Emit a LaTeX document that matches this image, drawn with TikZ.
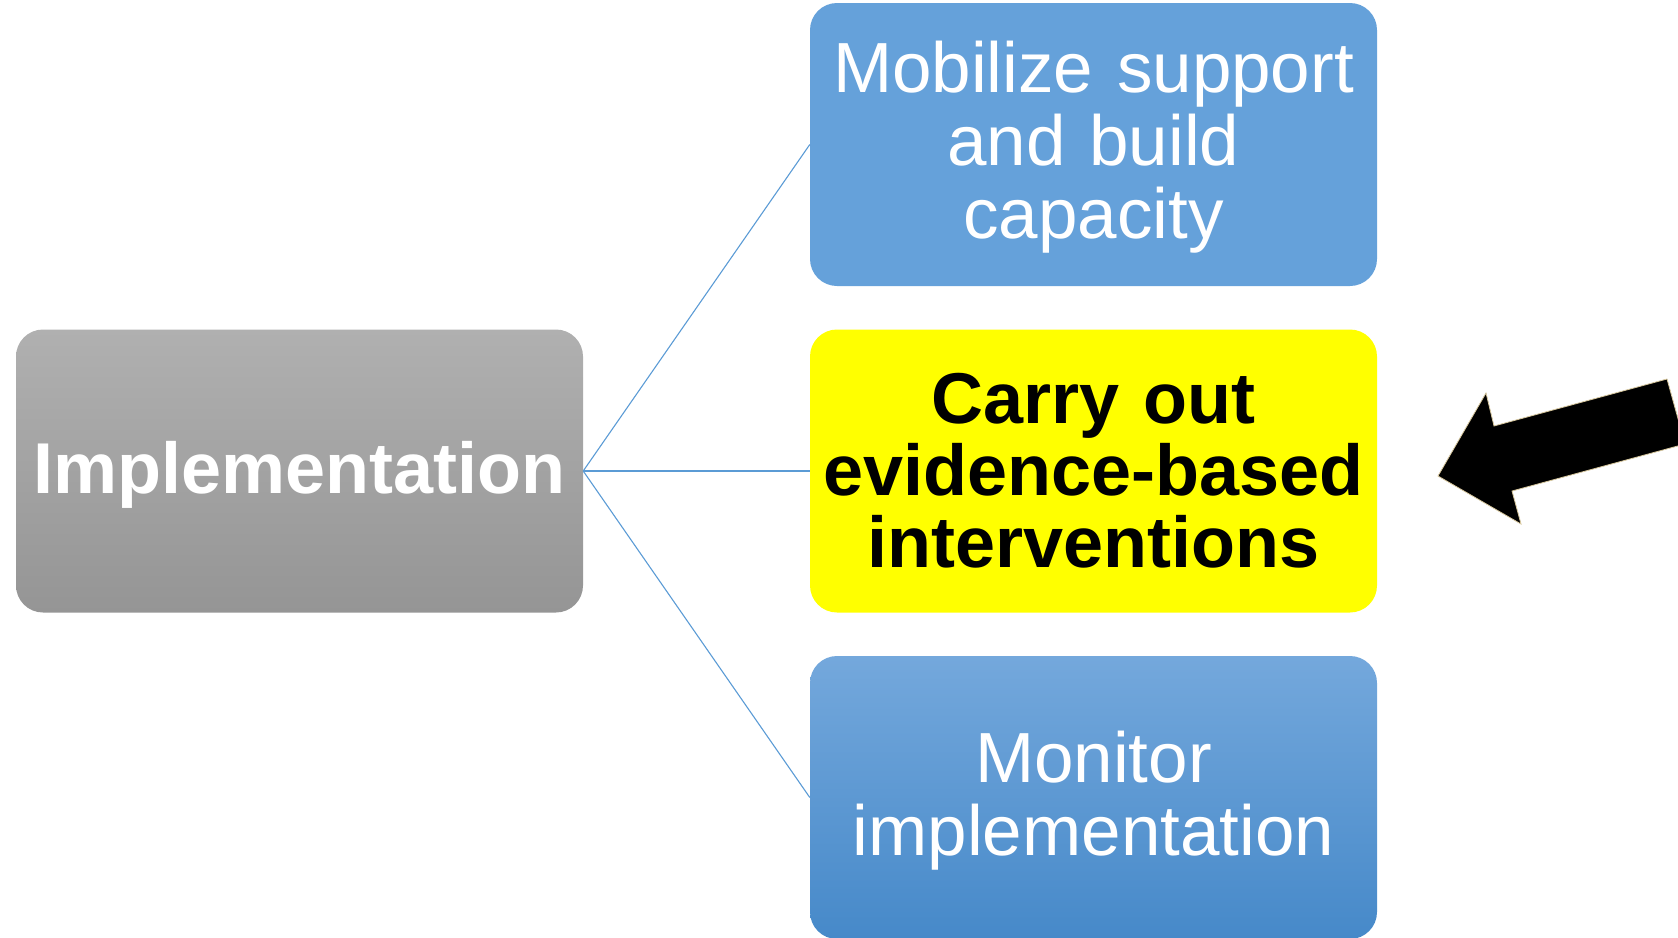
\documentclass[tikz,border=0pt]{standalone}
\usepackage{fontspec}
\setmainfont{Liberation Sans}
\definecolor{grayTop}{HTML}{B0B0B0}
\definecolor{grayBot}{HTML}{959595}
\definecolor{blueFlat}{HTML}{65A1DA}
\definecolor{blueTop}{HTML}{74A8DC}
\definecolor{blueBot}{HTML}{4689C9}
\definecolor{pureYellow}{RGB}{255,255,0}
\definecolor{connBlue}{HTML}{5B9BD5}
\definecolor{arrowEdge}{HTML}{D8C89E}
\begin{document}
\begin{tikzpicture}[x=1pt,y=-1pt,
  box/.style={rectangle, rounded corners=27pt, minimum width=567pt, minimum height=283pt,
    inner sep=0pt, align=center, text width=560pt},
  lead/.style={execute at begin node={\rule{0pt}{#1}}},
  lightfont/.style={font=\fontsize{71}{73}\selectfont, text=white, lead=57pt},
  boldfont/.style={font=\fontsize{72}{72}\selectfont\bfseries},
  conn/.style={draw=connBlue, line width=1.1pt}]
\useasboundingbox (0,0) rectangle (1678,937);
\begin{scope}
\clip (0,0) rectangle (1678,937);
\node[box, top color=grayTop, bottom color=grayBot, boldfont, text=white, lead=60pt] (impl) at (299.5,471) {Implementation};
\node[box, fill=blueFlat, lightfont] (mob) at (1093.5,144.5) {Mobilize support\\and build\\capacity};
\node[box, fill=pureYellow, boldfont, text=black] (carry) at (1093.5,471) {Carry out\\evidence-based\\interventions};
\node[box, top color=blueTop, bottom color=blueBot, lightfont] (mon) at (1093.5,797.5) {Monitor\\implementation};
\draw[conn] (impl.east) -- (mob.west);
\draw[conn] (impl.east) -- (carry.west);
\draw[conn] (impl.east) -- (mon.west);
\coordinate (tip) at (1438,476);
\coordinate (ub) at (1486,393);
\coordinate (uj) at (1494,426);
\coordinate (ur) at (1667,379);
\coordinate (lr) at (1685,444);
\coordinate (lj) at (1512,491);
\coordinate (lb) at (1521,524);
\draw[fill=black, draw=arrowEdge, line width=0.8pt, line join=miter]
  (tip) -- (ub) -- (uj) -- (ur) -- (lr) -- (lj) -- (lb) -- cycle;
\end{scope}
\end{tikzpicture}
\end{document}
